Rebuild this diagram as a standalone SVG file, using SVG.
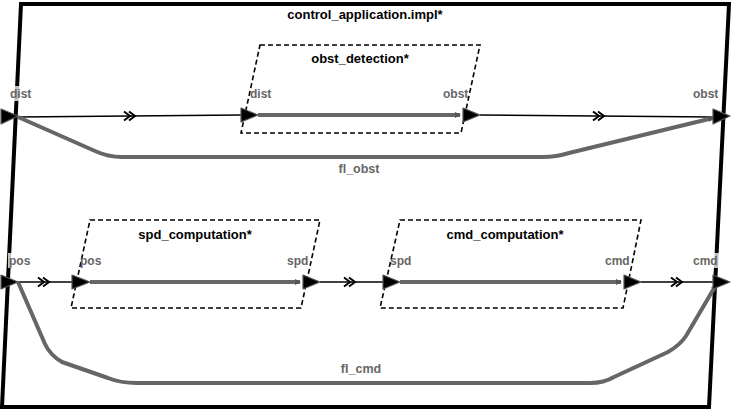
<svg xmlns="http://www.w3.org/2000/svg" width="731" height="411" viewBox="0 0 731 411">
<style>
.frame{fill:#fff;stroke:#000;stroke-width:4}
.box{fill:none;stroke:#000;stroke-width:1.6;stroke-dasharray:5,3}
.title{font-family:"Liberation Sans",Arial,sans-serif;font-size:13px;font-weight:bold;fill:#000;text-anchor:middle}
.plabel{font-family:"Liberation Sans",Arial,sans-serif;font-size:12px;font-weight:bold;fill:#666}
.flabel{font-family:"Liberation Sans",Arial,sans-serif;font-size:12.5px;font-weight:bold;fill:#666;text-anchor:middle}
.lbg{fill:#fff;opacity:0.75}
.port{fill:#000;stroke:#555;stroke-width:1.2;stroke-linejoin:round}
.conn{fill:none;stroke:#000;stroke-width:1.6}
.chev{fill:none;stroke:#000;stroke-width:2}
.flow{fill:none;stroke:#666;stroke-width:4;stroke-linejoin:round}
</style>
<defs>
<marker id="fa" markerWidth="6" markerHeight="6" refX="5" refY="3" orient="auto" markerUnits="userSpaceOnUse">
<path d="M0,0 L6,3 L0,6 z" fill="#555"/>
</marker>
<g id="ch"><path class="chev" d="M-8,-4.5 L-2,0 L-8,4.5 M-3,-4.5 L3,0 L-3,4.5"/></g>
</defs>

<g id="control_application">
<polygon class="frame" points="21,4 729,4 709,407 2,407"/>
<text class="title" x="365" y="19">control_application.impl*</text>
</g>

<g id="obst_detection">
<polygon class="box" points="260,45 480,45 461,133 241,133"/>
<text class="title" x="360" y="63">obst_detection*</text>
</g>

<g id="spd_computation">
<polygon class="box" points="90,220 320,220 301,308 71,308"/>
<text class="title" x="195" y="239">spd_computation*</text>
</g>

<g id="cmd_computation">
<polygon class="box" points="400,220 641,220 623,308 380,308"/>
<text class="title" x="505" y="239">cmd_computation*</text>
</g>

<g id="connectors">
<path class="conn" d="M18,117 L241,115"/>
<use href="#ch" x="132" y="116"/>
<path class="conn" d="M480,115 L713,117"/>
<use href="#ch" x="601" y="116"/>
<path class="conn" d="M18,282 L72,282"/>
<use href="#ch" x="46" y="282"/>
<path class="conn" d="M320,282 L383,282"/>
<use href="#ch" x="352" y="282"/>
<path class="conn" d="M641,282 L713,282"/>
<use href="#ch" x="679" y="282"/>

<path class="flow" d="M258,115 L460,115" marker-end="url(#fa)"/>
<path class="flow" d="M90,282 L300,282" marker-end="url(#fa)"/>
<path class="flow" d="M400,282 L621,282" marker-end="url(#fa)"/>

<path class="flow" d="M18,117 L95,151 Q108,157 122,157 L543,157 Q556,157 569,153 L713,118" marker-end="url(#fa)"/>
<path class="flow" d="M18,282 L45,344 Q50,355 62,362 L108,378 Q120,383 137,383 L590,383 Q604,383 614,377 L668,352 Q680,345 686,336 L716,285" marker-end="url(#fa)"/>
<text class="flabel" x="359" y="173">fl_obst</text>
<text class="flabel" x="361" y="373">fl_cmd</text>
</g>

<g id="ports">
<rect class="lbg" x="9" y="86" width="26" height="15"/>
<text class="plabel" x="10" y="98">dist</text>
<polygon class="port" points="1,109 18,116 1,124"/>
<rect class="lbg" x="692" y="86" width="30" height="15"/>
<text class="plabel" x="693" y="98">obst</text>
<polygon class="port" points="713,109 730,116 713,124"/>

<text class="plabel" x="250" y="98">dist</text>
<polygon class="port" points="241,108 258,115 241,122"/>
<text class="plabel" x="443" y="98">obst</text>
<polygon class="port" points="463,108 480,115 463,122"/>

<rect class="lbg" x="8" y="253" width="27" height="15"/>
<text class="plabel" x="9" y="265">pos</text>
<polygon class="port" points="1,275 18,282 1,289"/>
<rect class="lbg" x="692" y="253" width="30" height="15"/>
<text class="plabel" x="693" y="265">cmd</text>
<polygon class="port" points="713,275 730,282 713,289"/>

<text class="plabel" x="80" y="265">pos</text>
<polygon class="port" points="72,275 90,282 72,289"/>
<text class="plabel" x="287" y="265">spd</text>
<polygon class="port" points="303,275 320,282 303,289"/>
<text class="plabel" x="390" y="265">spd</text>
<polygon class="port" points="383,275 400,282 383,289"/>
<text class="plabel" x="605" y="265">cmd</text>
<polygon class="port" points="624,275 641,282 624,289"/>
</g>
</svg>
